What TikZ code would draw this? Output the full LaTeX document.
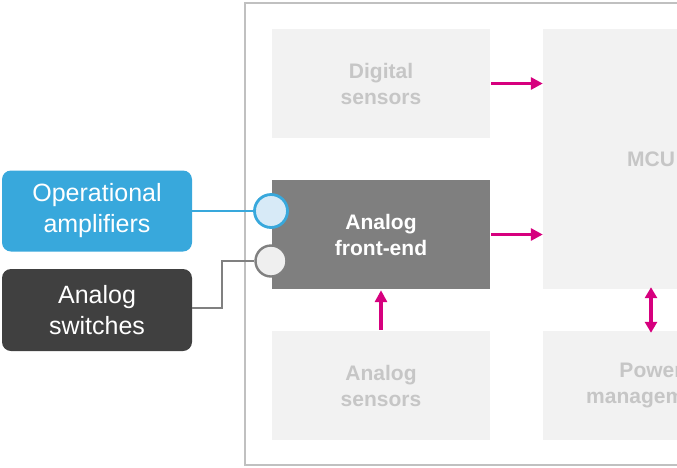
\documentclass[tikz,border=0pt]{standalone}
\usepackage{fontspec}
\setmainfont{Liberation Sans}
\usetikzlibrary{arrows.meta}
\definecolor{opblue}{HTML}{38A8DC}
\definecolor{circblue}{HTML}{D7EAF7}
\definecolor{swdark}{HTML}{404040}
\definecolor{afegray}{HTML}{7F7F7F}
\definecolor{boxgray}{HTML}{F2F2F2}
\definecolor{txtgray}{HTML}{C6C6C6}
\definecolor{framegray}{HTML}{C0C0C0}
\definecolor{magenta}{HTML}{D6007E}
\definecolor{circgray}{HTML}{EFEFEF}
\definecolor{circedge}{HTML}{808080}
\tikzset{
  x=1pt,y=-1pt,
  blk/.style={fill=boxgray,draw=none,font=\bfseries\fontsize{21}{26}\selectfont,text=txtgray,align=center},
  afe/.style={fill=afegray,draw=none,font=\bfseries\fontsize{21}{26}\selectfont,text=white,align=center},
  side/.style={rounded corners=9pt,draw=none,font=\fontsize{25}{31}\selectfont,text=white,align=center},
  arr/.style={draw=magenta,line width=3.6pt,-{Triangle[length=12pt,width=12pt]}},
  darr/.style={draw=magenta,line width=3.6pt,{Triangle[length=11pt,width=12pt]}-{Triangle[length=11pt,width=12pt]}},
}
\begin{document}
\begin{tikzpicture}
\useasboundingbox (0,0) rectangle (677,467);
\clip (0,0) rectangle (677,467);
\draw[framegray,line width=1.5pt] (800,3) -- (245,3) -- (245,465) -- (800,465);
% blocks
\node[blk,minimum width=218pt,minimum height=109pt] (dig) at (381,83.5) {Digital\\sensors};
\node[blk,minimum width=218pt,minimum height=109pt] (ans) at (381,385.5) {Analog\\sensors};
\node[afe,minimum width=218pt,minimum height=109pt] (afe) at (381,234.5) {Analog\\front-end};
\node[blk,minimum width=216pt,minimum height=260pt] (mcu) at (651,159) {MCU};
\node[blk,minimum width=216pt,minimum height=109pt] (pwr) at (651,385.5) {Power\\management};
% arrows
\draw[arr] (dig.east) ++(1,0) coordinate (d1) -- (d1 -| mcu.west);
\draw[arr] (afe.east) ++(1,0) coordinate (a1) -- (a1 -| mcu.west);
\draw[arr] (ans.north) ++(0,-1) -- ([yshift=-1pt]afe.south);
\draw[darr] ([yshift=-2pt]pwr.north) -- ([yshift=2pt]mcu.south);
% side boxes
\node[side,fill=opblue,minimum width=190pt,minimum height=81pt] (op) at (97,211) {Operational\\amplifiers};
\node[side,fill=swdark,minimum width=190pt,minimum height=82pt] (sw) at (97,310) {Analog\\switches};
\node[circle,draw=opblue,fill=circblue,line width=2.8pt,minimum size=33pt,inner sep=0] (c1) at (271,211) {};
\node[circle,draw=circedge,fill=circgray,line width=2.4pt,minimum size=31pt,inner sep=0] (c2) at (271,261) {};
\draw[opblue,line width=1.6pt] (op.east) -- (c1.west);
\draw[circedge,line width=1.6pt] (sw.east |- 0,308) -- (222,308) -- (222,261) -- (c2.west);
\end{tikzpicture}
\end{document}
